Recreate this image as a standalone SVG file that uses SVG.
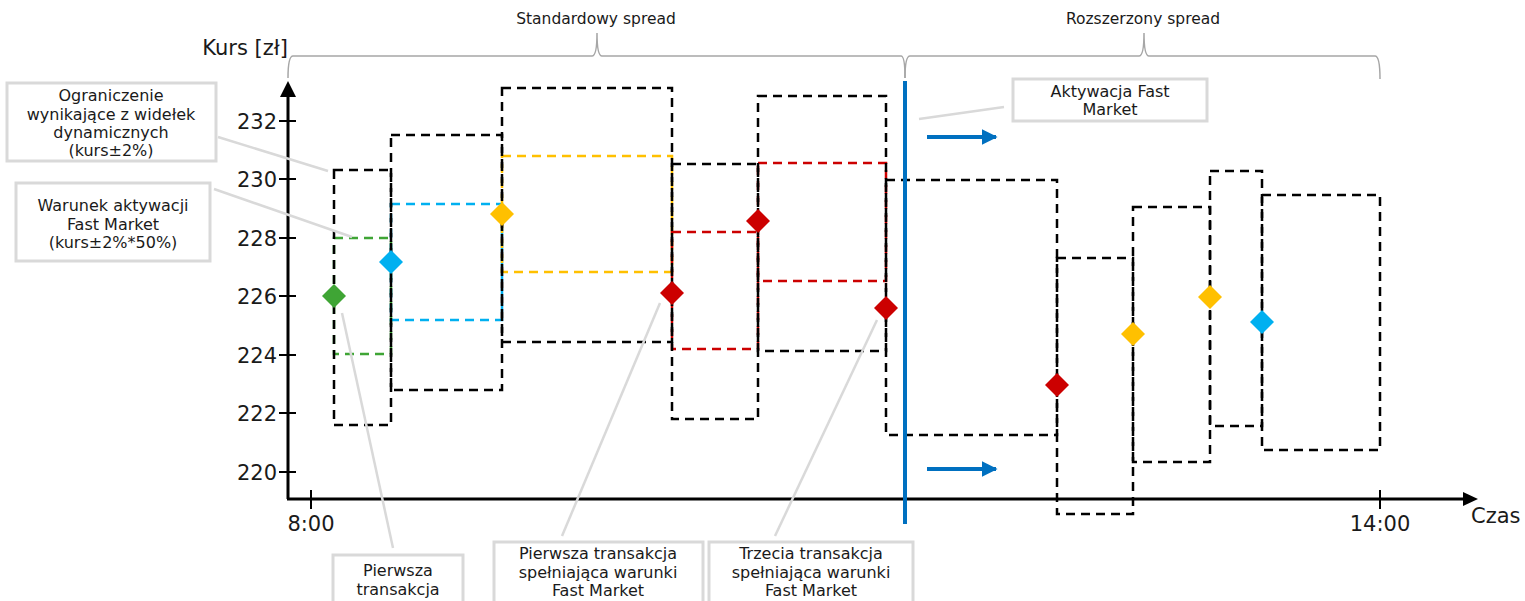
<svg xmlns="http://www.w3.org/2000/svg" width="1525" height="601" viewBox="0 0 1525 601">
<defs>
<style>
text{font-family:"DejaVu Sans","Verdana",sans-serif;fill:#1a1a1a}
.ax{font-size:21px}
.lbl{font-size:16px;text-anchor:middle}
.top{font-size:15.5px;text-anchor:middle}
.box{fill:#fff;stroke:#d9d9d9;stroke-width:3}
.con{stroke:#d9d9d9;stroke-width:2.5;fill:none}
.brace{stroke:#a6a6a6;stroke-width:1.5;fill:none}
.bk{fill:none;stroke:#000;stroke-width:2.5;stroke-dasharray:9 6}
.gr{fill:none;stroke:#3FA535;stroke-width:2.5;stroke-dasharray:9 6}
.bl{fill:none;stroke:#00B0F0;stroke-width:2.5;stroke-dasharray:9 6}
.ye{fill:none;stroke:#FFC000;stroke-width:2.5;stroke-dasharray:9 6}
.rd{fill:none;stroke:#CC0000;stroke-width:2.5;stroke-dasharray:9 6}
.tick{stroke:#000;stroke-width:2}
</style>
<marker id="ah" viewBox="0 0 10 10" refX="9" refY="5" markerWidth="4" markerHeight="4" orient="auto">
<path d="M0,0 L10,5 L0,10 Z" fill="#0070C0"/>
</marker>
</defs>
<rect width="1525" height="601" fill="#fff"/>

<g id="braces">
<path class="brace" d="M288,78 Q288,56 293,56 L592,56 Q597,56 597,33 Q597,56 602,56 L901,56 Q905,56 905,78"/>
<path class="brace" d="M905,78 Q905,56 910,56 L1139,56 Q1144,56 1144,33 Q1144,56 1149,56 L1375,56 Q1380,56 1380,79"/>
<text class="top" x="596" y="24">Standardowy spread</text>
<text class="top" x="1143" y="24">Rozszerzony spread</text>
</g>

<g id="axes">
<line x1="288" y1="499" x2="288" y2="92" stroke="#000" stroke-width="3"/>
<path d="M288,81 L280,97 L296,97 Z" fill="#000"/>
<line x1="287" y1="499" x2="1466" y2="499" stroke="#000" stroke-width="3"/>
<path d="M1478,499 L1463,492 L1463,506 Z" fill="#000"/>
<line class="tick" x1="279" y1="121" x2="296" y2="121"/>
<line class="tick" x1="279" y1="179" x2="296" y2="179"/>
<line class="tick" x1="279" y1="238" x2="296" y2="238"/>
<line class="tick" x1="279" y1="296" x2="296" y2="296"/>
<line class="tick" x1="279" y1="355" x2="296" y2="355"/>
<line class="tick" x1="279" y1="413" x2="296" y2="413"/>
<line class="tick" x1="279" y1="472" x2="296" y2="472"/>
<line class="tick" x1="311" y1="490" x2="311" y2="509"/>
<line class="tick" x1="1380" y1="490" x2="1380" y2="509"/>
<g class="ax" text-anchor="end">
<text x="277" y="129">232</text>
<text x="277" y="187">230</text>
<text x="277" y="246">228</text>
<text x="277" y="304">226</text>
<text x="277" y="363">224</text>
<text x="277" y="421">222</text>
<text x="277" y="480">220</text>
</g>
<text class="ax" x="311" y="531" text-anchor="middle">8:00</text>
<text class="ax" x="1380" y="531" text-anchor="middle">14:00</text>
<text class="ax" x="1471" y="523">Czas</text>
<text class="ax" x="288" y="55" text-anchor="end">Kurs [zł]</text>
</g>

<g id="ranges">
<rect class="gr" x="334" y="238" width="57" height="116"/>
<rect class="bl" x="391" y="204" width="111" height="116"/>
<rect class="ye" x="502" y="156" width="170" height="116"/>
<rect class="rd" x="672" y="232" width="86" height="117"/>
<rect class="rd" x="758" y="163" width="128" height="118"/>
<rect class="bk" x="334" y="170" width="57" height="255"/>
<rect class="bk" x="391" y="135" width="111" height="255"/>
<rect class="bk" x="502" y="88" width="170" height="254"/>
<rect class="bk" x="672" y="164" width="86" height="255"/>
<rect class="bk" x="758" y="96" width="128" height="255"/>
<rect class="bk" x="886" y="180" width="171" height="255"/>
<rect class="bk" x="1057" y="258" width="76" height="256"/>
<rect class="bk" x="1133" y="207" width="77" height="255"/>
<rect class="bk" x="1210" y="171" width="52" height="255"/>
<rect class="bk" x="1262" y="195" width="118" height="255"/>
</g>

<g id="activation-line">
<line x1="905" y1="81" x2="905" y2="524" stroke="#0070C0" stroke-width="4"/>
<line x1="927" y1="137" x2="996" y2="137" stroke="#0070C0" stroke-width="4" marker-end="url(#ah)"/>
<line x1="927" y1="469" x2="996" y2="469" stroke="#0070C0" stroke-width="4" marker-end="url(#ah)"/>
</g>

<g id="connectors">
<line class="con" x1="218" y1="137" x2="328" y2="171"/>
<line class="con" x1="214" y1="189" x2="352" y2="237"/>
<line class="con" x1="342" y1="313" x2="393" y2="548"/>
<line class="con" x1="660" y1="303" x2="562" y2="536"/>
<line class="con" x1="877" y1="320" x2="775" y2="536"/>
<line class="con" x1="919" y1="119" x2="1004" y2="107"/>
</g>

<g id="points">
<path d="M334,284 L346,296 L334,308 L322,296 Z" fill="#3FA535"/>
<path d="M391,250 L403,262 L391,274 L379,262 Z" fill="#00B0F0"/>
<path d="M502,202 L514,214 L502,226 L490,214 Z" fill="#FFC000"/>
<path d="M672,281 L684,293 L672,305 L660,293 Z" fill="#CC0000"/>
<path d="M758,209 L770,221 L758,233 L746,221 Z" fill="#CC0000"/>
<path d="M886,296 L898,308 L886,320 L874,308 Z" fill="#CC0000"/>
<path d="M1057,373 L1069,385 L1057,397 L1045,385 Z" fill="#CC0000"/>
<path d="M1133,322 L1145,334 L1133,346 L1121,334 Z" fill="#FFC000"/>
<path d="M1210,285 L1222,297 L1210,309 L1198,297 Z" fill="#FFC000"/>
<path d="M1262,310 L1274,322 L1262,334 L1250,322 Z" fill="#00B0F0"/>
</g>

<g id="label-ograniczenie">
<rect class="box" x="7" y="83" width="209" height="78"/>
<text class="lbl" x="111" y="101">Ograniczenie</text>
<text class="lbl" x="111" y="119.5">wynikające z widełek</text>
<text class="lbl" x="111" y="138">dynamicznych</text>
<text class="lbl" x="111" y="156">(kurs±2%)</text>
</g>
<g id="label-warunek">
<rect class="box" x="16" y="183" width="194" height="78"/>
<text class="lbl" x="113" y="211">Warunek aktywacji</text>
<text class="lbl" x="113" y="229.5">Fast Market</text>
<text class="lbl" x="113" y="248">(kurs±2%*50%)</text>
</g>
<g id="label-aktywacja">
<rect class="box" x="1013" y="79" width="194" height="42"/>
<text class="lbl" x="1110" y="97">Aktywacja Fast</text>
<text class="lbl" x="1110" y="115">Market</text>
</g>
<g id="label-pierwsza">
<rect class="box" x="333" y="555" width="130" height="60"/>
<text class="lbl" x="398" y="576">Pierwsza</text>
<text class="lbl" x="398" y="595">transakcja</text>
</g>
<g id="label-pierwsza-fm">
<rect class="box" x="494" y="542" width="209" height="70"/>
<text class="lbl" x="598" y="559">Pierwsza transakcja</text>
<text class="lbl" x="598" y="578">spełniająca warunki</text>
<text class="lbl" x="598" y="596">Fast Market</text>
</g>
<g id="label-trzecia-fm">
<rect class="box" x="709" y="542" width="204" height="70"/>
<text class="lbl" x="811" y="559">Trzecia transakcja</text>
<text class="lbl" x="811" y="578">spełniająca warunki</text>
<text class="lbl" x="811" y="596">Fast Market</text>
</g>
</svg>
